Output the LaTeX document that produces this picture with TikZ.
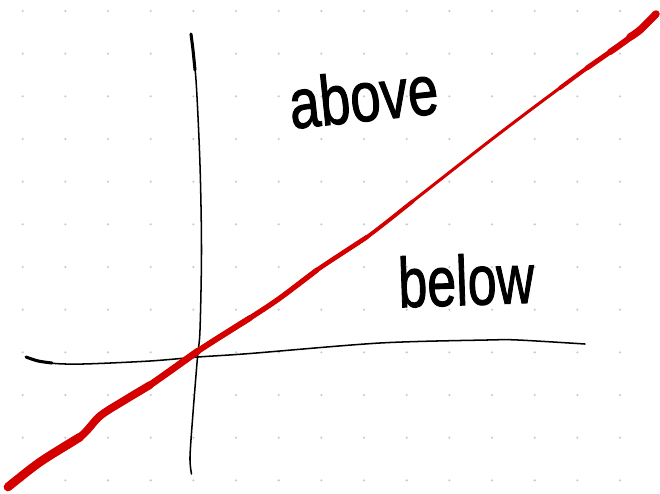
\documentclass[tikz,border=0pt]{standalone}
\usepackage{fontspec}
\usepackage{graphicx}
\usepackage{xcolor}
\usepackage{tikz}
\newfontfamily\handfont[FakeBold=1.6]{Liberation Sans}
\definecolor{inkred}{RGB}{212,0,0}
\definecolor{dotgrey}{RGB}{200,200,200}

\begin{document}
\begin{tikzpicture}[
  x=0.03cm, y=-0.03cm,
  axis/.style={draw=black, line width=1.3pt, line cap=round, line join=round},
  redline/.style={draw=inkred, line cap=round, line join=round},
  hand/.style={inner sep=0pt, anchor=base,
               font=\handfont\fontsize{60}{60}\selectfont}]
\useasboundingbox (0,0) rectangle (660,493);
% dotted paper
\foreach \i in {0,...,14}
  \foreach \j in {0,...,11}
    \fill[dotgrey] (22.7+42.67*\i, 11+42.67*\j) circle[radius=1pt];
% axes
\draw[axis] plot[smooth] coordinates
  {(191,34) (196,80) (200,165) (201.5,250) (200,330) (197.5,357) (193,413) (190,457) (191.5,474)};
\draw[axis, line width=2.6pt] plot[smooth] coordinates {(191,34) (193,50) (195,70)};
\draw[axis] plot[smooth] coordinates
  {(26,357) (50,363) (83,364) (150,361) (198,357) (250,353.5) (380,343) (487,340) (518,340) (585,344)};
\draw[axis, line width=2.6pt] plot[smooth] coordinates {(26,357) (38,361) (52,363)};
% red line, thick at both ends
\draw[redline, line width=2.6pt] plot[smooth] coordinates
  {(8,487) (40,462) (80,437) (100,416) (125,400) (150,385) (198,351) (250,318) (280,298)
   (317,270) (367,237) (413,201) (487,143) (537,105) (587,68) (620,45) (640,30) (656,14)};
\foreach \w/\pts in {
    3.2/{(8,487) (40,462) (80,437) (100,416) (125,400) (150,385) (198,351) (250,318) (280,298) (317,270) (367,237) (413,201)},
    3.8/{(8,487) (40,462) (80,437) (100,416) (125,400) (150,385) (198,351) (250,318) (280,298) (317,270) (367,237)},
    4.4/{(8,487) (40,462) (80,437) (100,416) (125,400) (150,385) (198,351) (250,318) (280,298) (317,270)},
    5.0/{(8,487) (40,462) (80,437) (100,416) (125,400) (150,385) (198,351) (250,318)},
    5.8/{(8,487) (40,462) (80,437) (100,416) (125,400) (150,385) (198,351)},
    6.6/{(8,487) (40,462) (80,437) (100,416) (125,400) (150,385)},
    7.4/{(8,487) (40,462) (80,437)},
    3.4/{(560,88) (587,68) (620,45) (640,30) (656,14)},
    4.2/{(587,68) (620,45) (640,30) (656,14)},
    5.2/{(610,52) (620,45) (640,30) (656,14)},
    6.4/{(630,37) (640,30) (656,14)}}
  \draw[redline, line width=\w pt] plot[smooth] coordinates \pts;
% labels
\node[hand, rotate=6] (lblabove) at (366,121) {\scalebox{0.78}[1]{above}};
\node[hand, rotate=2] (lblbelow) at (467,305) {\scalebox{0.74}[1]{below}};
\end{tikzpicture}
\end{document}
